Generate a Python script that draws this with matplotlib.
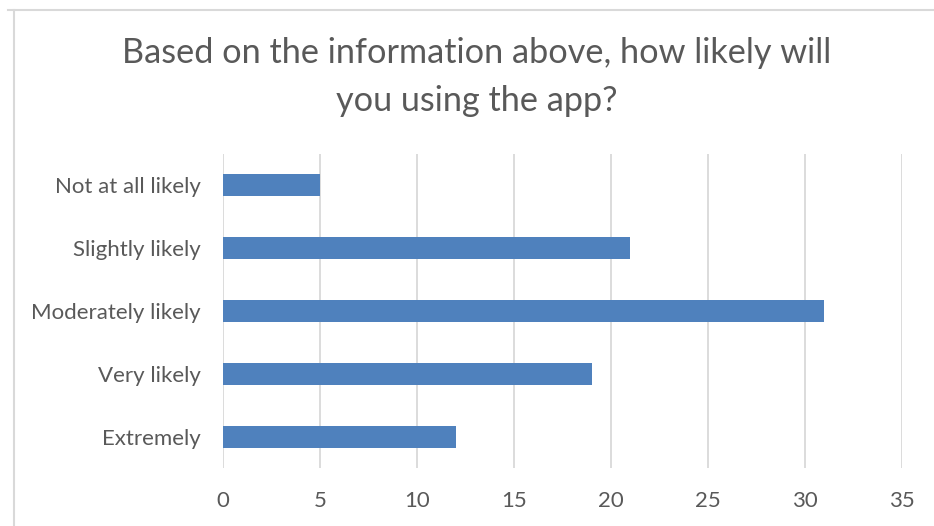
import matplotlib.pyplot as plt
from matplotlib.lines import Line2D

# survey responses
categories = ["Not at all likely", "Slightly likely", "Moderately likely", "Very likely", "Extremely"]
counts = [5, 21, 31, 19, 12]
xticks = [0, 5, 10, 15, 20, 25, 30, 35]
title = "Based on the information above, how likely will\nyou using the app?"

TEXT = "#595959"
GRID = "#d9d9d9"
BAR = "#4f81bd"

plt.rcParams["font.family"] = ["Lato", "DejaVu Sans"]

fig = plt.figure(figsize=(9.34, 5.26), dpi=100)
ax = fig.add_axes([223 / 934, 1 - 468 / 526, (902 - 223) / 934, (468 - 154) / 526])

ypos = list(range(len(categories)))
ax.barh(ypos, counts, height=0.35, color=BAR, zorder=3)
ax.set_ylim(len(categories) - 0.5, -0.5)
ax.set_yticks(ypos)
ax.set_yticklabels(categories, fontsize=16, color=TEXT)
ax.set_xlim(0, 35)
ax.set_xticks(xticks)
ax.set_xticklabels([str(v) for v in xticks], fontsize=16, color=TEXT)
ax.tick_params(length=0)
ax.tick_params(axis="y", pad=16)
ax.tick_params(axis="x", pad=16.5)
ax.grid(axis="x", color=GRID, linewidth=1.3, zorder=0)
for s in ax.spines.values():
    s.set_visible(False)

fig.text(477 / 934, 1 - 77 / 526, title, ha="center", va="center",
         fontsize=24.7, color=TEXT, linespacing=1.58)

# chart frame (top and left edges only)
fig.add_artist(Line2D([8 / 934, 1], [1 - 9.5 / 526, 1 - 9.5 / 526], color=GRID, linewidth=1.5))
fig.add_artist(Line2D([13.5 / 934, 13.5 / 934], [0, 1 - 9.5 / 526], color=GRID, linewidth=1.5))

fig.savefig("out.png", dpi=100)
